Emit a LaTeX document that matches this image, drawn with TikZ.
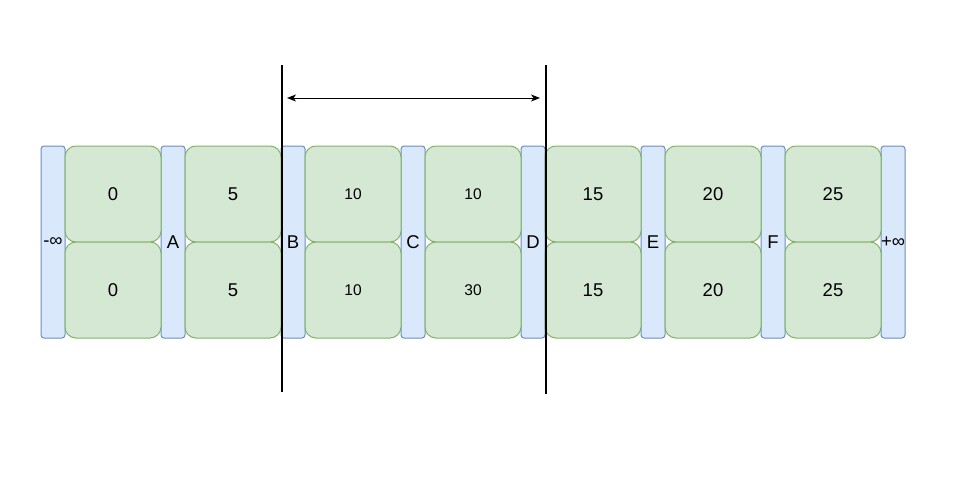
\documentclass[tikz,border=0pt]{standalone}
\usepackage{fontspec}
\setmainfont{Liberation Sans}
\usetikzlibrary{arrows.meta}
\definecolor{bfill}{HTML}{DAE8FC}
\definecolor{bline}{HTML}{6C8EBF}
\definecolor{gfill}{HTML}{D5E8D4}
\definecolor{gline}{HTML}{82B366}
\tikzset{
  bar/.style={draw=bline, fill=bfill, line width=1pt, rounded corners=3pt,
    minimum width=24pt, minimum height=192pt, inner sep=0pt},
  barlbl/.style={inner sep=0pt, font=\fontsize{18.5}{20}\selectfont},
  gbox/.style={draw=gline, fill=gfill, line width=1pt, rounded corners=11pt,
    minimum width=96pt, minimum height=96pt, inner sep=0pt,
    font=\fontsize{18.5}{20}\selectfont},
  gsmall/.style={gbox, font=\fontsize{15.5}{17}\selectfont},
  marker/.style={line width=2pt, black},
  span/.style={line width=1pt, {Stealth[length=9pt,width=7pt,inset=2.5pt]}-{Stealth[length=9pt,width=7pt,inset=2.5pt]}}
}
\begin{document}
\begin{tikzpicture}[x=1pt,y=-1pt]
\useasboundingbox (0,0) rectangle (953,487);
\fill[white] (0,0) rectangle (953,487);
% bars
\foreach \i in {0,...,7} {
  \node[bar] (b\i) at (53+120*\i, 242) {};
}
% green boxes
\node[gbox] (g0u) at (113,194) {0};
\node[gbox] (g0d) at (113,290) {0};
\node[gbox] (g1u) at (233,194) {5};
\node[gbox] (g1d) at (233,290) {5};
\node[gsmall] (g2u) at (353,194) {10};
\node[gsmall] (g2d) at (353,290) {10};
\node[gsmall] (g3u) at (473,194) {10};
\node[gsmall] (g3d) at (473,290) {30};
\node[gbox] (g4u) at (593,194) {15};
\node[gbox] (g4d) at (593,290) {15};
\node[gbox] (g5u) at (713,194) {20};
\node[gbox] (g5d) at (713,290) {20};
\node[gbox] (g6u) at (833,194) {25};
\node[gbox] (g6d) at (833,290) {25};
% bar labels
\node[barlbl] (l0) at (b0) {-∞};
\node[barlbl] (l1) at (b1) {A};
\node[barlbl] (l2) at (b2) {B};
\node[barlbl] (l3) at (b3) {C};
\node[barlbl] (l4) at (b4) {D};
\node[barlbl] (l5) at (b5) {E};
\node[barlbl] (l6) at (b6) {F};
\node[barlbl] (l7) at (b7) {+∞};
% markers
\coordinate (m1t) at (282,65);
\coordinate (m1b) at (282,392);
\coordinate (m2t) at (546,65);
\coordinate (m2b) at (546,394);
\draw[marker] (m1t) -- (m1b);
\draw[marker] (m2t) -- (m2b);
\coordinate (a1) at (287,98);
\coordinate (a2) at (540,98);
\draw[span] (a1) -- (a2);
\end{tikzpicture}
\end{document}
